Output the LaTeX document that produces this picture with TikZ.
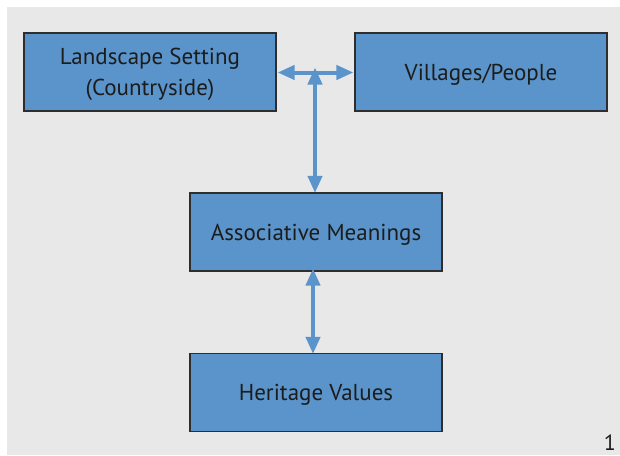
\documentclass[tikz,border=0pt]{standalone}
\usepackage{fontspec}
\setmainfont{PT Sans}
\usetikzlibrary{arrows.meta}
\definecolor{panel}{HTML}{E8E8E8}
\definecolor{boxfill}{HTML}{5A94CA}
\definecolor{boxline}{HTML}{2E2E2E}
\definecolor{ink}{HTML}{1C1C1C}
\tikzset{
  block/.style={draw=boxline, line width=1.2pt, fill=boxfill, text=ink,
    font=\fontsize{23}{31}\selectfont, align=center, inner sep=0pt,
    text depth=0pt, minimum width=252pt, minimum height=78pt},
  link/.style={draw=boxfill, line width=4pt,
    {Triangle[width=14pt,length=17pt]}-{Triangle[width=14pt,length=17pt]}, shorten <=0pt, shorten >=0pt}
}
\begin{document}
\begin{tikzpicture}[x=1pt,y=-1pt]
  \useasboundingbox (0,0) rectangle (620,455);
  \fill[white] (0,0) rectangle (620,455);
  \fill[panel] (7,7) rectangle (620,455);
  % boxes
  \node[block] (land) at (150,72) {Landscape Setting\\(Countryside)};
  \node[block] (vill) at (481,72) {Villages/People};
  \node[block] (assoc) at (316,232) {Associative Meanings};
  \node[block] (herit) at (316,392.5) {Heritage Values};
  % junction on the upper link
  \coordinate (mid) at (315,72.5);
  \draw[link] (land.east |- mid) ++(1,0) -- ([xshift=-1pt]vill.west |- mid);
  \draw[link] ([yshift=5pt]mid) -- ([yshift=-0.5pt]assoc.north -| mid);
  \draw[link] ([xshift=-3pt,yshift=3pt]assoc.south) -- ([xshift=-3pt,yshift=-1pt]herit.north);
  \node[text=ink, font=\fontsize{22}{26}\selectfont, anchor=base east, inner sep=0pt] (pg) at (616,450) {1};
\end{tikzpicture}
\end{document}
